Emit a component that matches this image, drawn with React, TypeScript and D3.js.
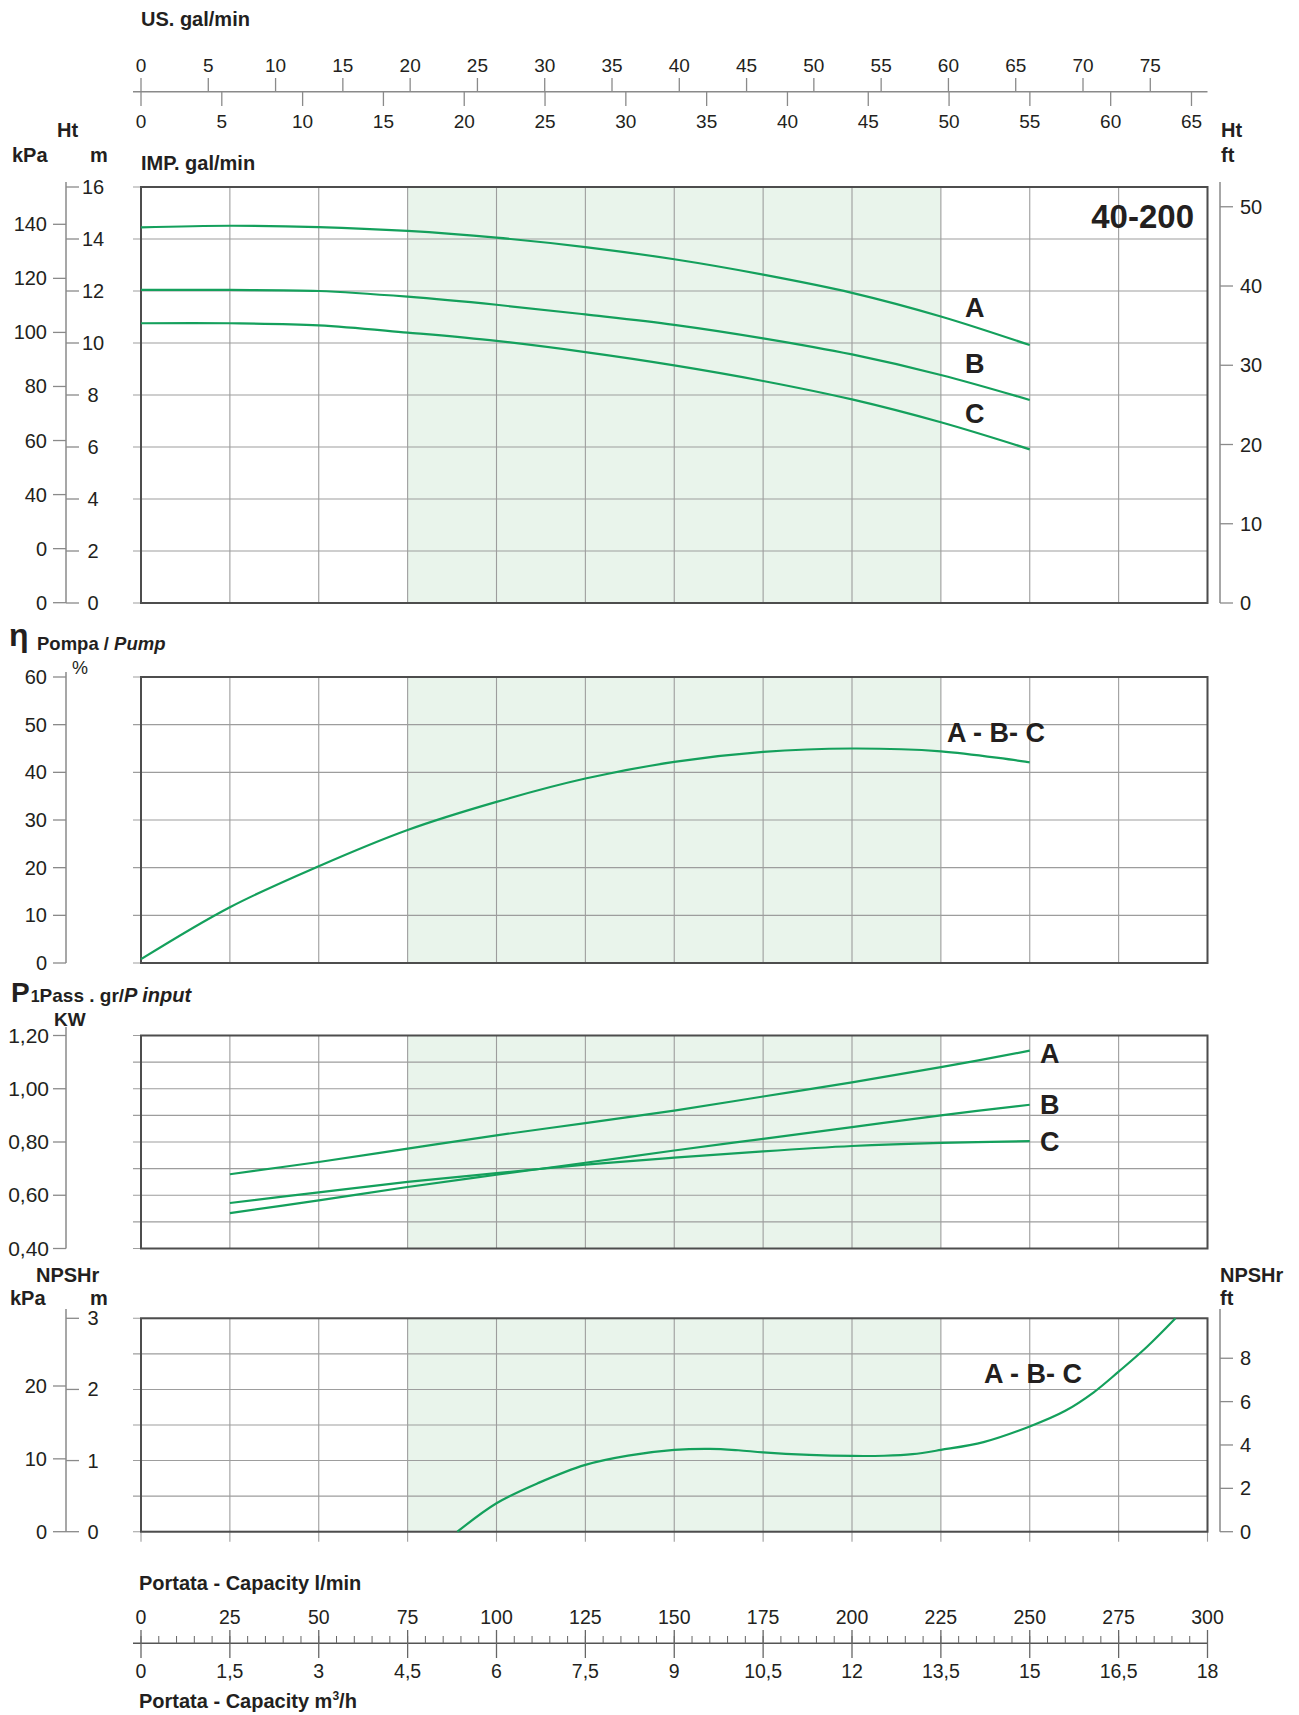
import React from 'react';
import * as d3 from 'd3';

// ---- axis tick values / labels ----
const flowTicks = [0, 25, 50, 75, 100, 125, 150, 175, 200, 225, 250, 275, 300];
const m3hLabels = ['0', '1,5', '3', '4,5', '6', '7,5', '9', '10,5', '12', '13,5', '15', '16,5', '18'];
const usGalTicks = [0, 5, 10, 15, 20, 25, 30, 35, 40, 45, 50, 55, 60, 65, 70, 75];
const impGalTicks = [0, 5, 10, 15, 20, 25, 30, 35, 40, 45, 50, 55, 60, 65];
const band = [75, 225];

const headMTicks = [0, 2, 4, 6, 8, 10, 12, 14, 16];
const headKpaTicks = [0, 20, 40, 60, 80, 100, 120, 140];
const headKpaLabels = ['0', '0', '40', '60', '80', '100', '120', '140'];
const headFtTicks = [0, 10, 20, 30, 40, 50];

const effTicks = [0, 10, 20, 30, 40, 50, 60];

const powerGrid = [0.4, 0.5, 0.6, 0.7, 0.8, 0.9, 1.0, 1.1, 1.2];
const powerTicks = [0.4, 0.6, 0.8, 1.0, 1.2];
const powerLabels = ['0,40', '0,60', '0,80', '1,00', '1,20'];

const npshGrid = [0, 0.5, 1, 1.5, 2, 2.5, 3];
const npshMTicks = [0, 1, 2, 3];
const npshKpaTicks = [0, 10, 20];
const npshFtTicks = [0, 2, 4, 6, 8];

// ---- curves ----
const headFlow = [0, 25, 50, 75, 100, 125, 150, 175, 200, 225, 250];
const headA = [14.45, 14.51, 14.46, 14.31, 14.05, 13.69, 13.22, 12.63, 11.93, 11.02, 9.92];
const headB = [12.04, 12.04, 12.0, 11.78, 11.47, 11.1, 10.7, 10.18, 9.56, 8.77, 7.81];
const headC = [10.76, 10.76, 10.68, 10.4, 10.08, 9.65, 9.14, 8.54, 7.83, 6.95, 5.91];

const effFlow = [0, 25, 50, 75, 100, 125, 150, 175, 200, 225, 250];
const effValues = [0.8, 11.7, 20.3, 27.9, 33.8, 38.7, 42.2, 44.3, 45.0, 44.4, 42.1];

const powerFlow = [25, 50, 75, 100, 125, 150, 175, 200, 225, 250];
const powerA = [0.679, 0.725, 0.775, 0.825, 0.871, 0.918, 0.971, 1.024, 1.081, 1.143];
const powerB = [0.533, 0.581, 0.631, 0.677, 0.722, 0.768, 0.812, 0.856, 0.9, 0.94];
const powerC = [0.571, 0.611, 0.65, 0.683, 0.715, 0.741, 0.765, 0.785, 0.797, 0.803];

const npshFlow = [89, 100, 112, 125, 137, 150, 160, 168, 175, 188, 200, 209, 217, 225, 237, 250, 260, 268, 275, 283, 291];
const npshValues = [0, 0.4, 0.69, 0.94, 1.07, 1.15, 1.165, 1.145, 1.115, 1.08, 1.065, 1.068, 1.09, 1.15, 1.26, 1.48, 1.7, 1.96, 2.25, 2.6, 3.0];

const FONT = '"Liberation Sans", Arial, Helvetica, sans-serif';
const GREEN = '#14a05c';
const GRID = '#9d9d9d';
const AXIS = '#8a8a8a';
const TXT = '#231f20';

const X0 = 141;
const X1 = 1207.5;
const GRID_LEFT = 133;
const AX_L = 66;
const AX_R = 1220;

const x = d3.scaleLinear().domain([0, 300]).range([X0, X1]);
const xUS = d3.scaleLinear().domain([0, 300 / 3.78541]).range([X0, X1]);
const xIMP = d3.scaleLinear().domain([0, 300 / 4.54609]).range([X0, X1]);

type PanelProps = {
  y: d3.ScaleLinear<number, number>;
  grid: number[];
  extendBottom?: number;
};

function Panel({ y, grid, extendBottom = 0 }: PanelProps) {
  const [b, t] = y.range();
  return (
    <g>
      <rect x={x(band[0])} y={t} width={x(band[1]) - x(band[0])} height={b - t} fill="#e9f4eb" />
      {flowTicks.map((f) => (
        <line key={'v' + f} x1={x(f)} x2={x(f)} y1={t} y2={b + extendBottom} stroke={GRID} strokeWidth={1.1} />
      ))}
      {grid.map((g) => (
        <line key={'h' + g} x1={GRID_LEFT} x2={X1} y1={y(g)} y2={y(g)} stroke={GRID} strokeWidth={1.1} />
      ))}
      <rect x={X0} y={t} width={X1 - X0} height={b - t} fill="none" stroke="#4d4d4d" strokeWidth={2} />
    </g>
  );
}

function Curve({ xs, ys, y }: { xs: number[]; ys: number[]; y: d3.ScaleLinear<number, number> }) {
  const pts = xs.map((f, i) => [f, ys[i]] as [number, number]);
  const gen = d3
    .line<[number, number]>()
    .x((d) => x(d[0]))
    .y((d) => y(d[1]))
    .curve(d3.curveCatmullRom.alpha(0.5));
  return <path d={gen(pts) || ''} fill="none" stroke={GREEN} strokeWidth={2.2} />;
}

function LeftTicks({ scale, values, labels, labelX = 47, size = 20 }: {
  scale: d3.ScaleLinear<number, number>; values: number[]; labels: string[]; labelX?: number; size?: number;
}) {
  return (
    <g>
      {values.map((v, i) => (
        <g key={v}>
          <line x1={53} x2={AX_L} y1={scale(v)} y2={scale(v)} stroke={AXIS} strokeWidth={1.3} />
          <text x={labelX} y={scale(v) + 7} textAnchor="end" fontSize={size} fill={TXT}>{labels[i]}</text>
        </g>
      ))}
    </g>
  );
}

function MTicks({ scale, values }: { scale: d3.ScaleLinear<number, number>; values: number[] }) {
  return (
    <g>
      {values.map((v) => (
        <g key={v}>
          <line x1={AX_L} x2={79} y1={scale(v)} y2={scale(v)} stroke={AXIS} strokeWidth={1.3} />
          <text x={93} y={scale(v) + 7} textAnchor="middle" fontSize={20} fill={TXT}>{v}</text>
        </g>
      ))}
    </g>
  );
}

function RightTicks({ scale, values }: { scale: d3.ScaleLinear<number, number>; values: number[] }) {
  return (
    <g>
      {values.map((v) => (
        <g key={v}>
          <line x1={AX_R} x2={1233} y1={scale(v)} y2={scale(v)} stroke={AXIS} strokeWidth={1.3} />
          <text x={1240} y={scale(v) + 7} fontSize={20} fill={TXT}>{v}</text>
        </g>
      ))}
    </g>
  );
}

export default function App() {
  // head panel
  const yHead = d3.scaleLinear().domain([0, 16]).range([603, 187]);
  const yHeadKpa = d3.scaleLinear().domain([0, 140]).range([602.7, 224.3]);
  const yHeadFt = d3.scaleLinear().domain([0, 16 / 0.3048]).range([603, 187]);
  // efficiency panel
  const yEff = d3.scaleLinear().domain([0, 60]).range([963, 677]);
  // power panel
  const yPow = d3.scaleLinear().domain([0.4, 1.2]).range([1248.5, 1035.5]);
  // npsh panel
  const yNpsh = d3.scaleLinear().domain([0, 3]).range([1531.7, 1318.3]);
  const yNpshKpa = d3.scaleLinear().domain([0, 20]).range([1531.7, 1386]);
  const yNpshFt = d3.scaleLinear().domain([0, 3 / 0.3048]).range([1531.7, 1318.3]);

  const minorFlow = x.ticks(60);

  return (
    <div style={{ position: 'absolute', left: 0, top: 0 }}>
      <svg width={1299} height={1715} style={{ display: 'block', background: '#fff' }} fontFamily={FONT}>
        {/* ---------- top axes ---------- */}
        <text x={141} y={26} fontSize={20} fontWeight="bold" fill={TXT}>US. gal/min</text>
        <line x1={GRID_LEFT} x2={X1} y1={91.7} y2={91.7} stroke={AXIS} strokeWidth={1.5} />
        {usGalTicks.map((v) => (
          <g key={'us' + v}>
            <line x1={xUS(v)} x2={xUS(v)} y1={78} y2={91.7} stroke={AXIS} strokeWidth={1.3} />
            <text x={xUS(v)} y={72} textAnchor="middle" fontSize={19} fill={TXT}>{v}</text>
          </g>
        ))}
        {impGalTicks.map((v) => (
          <g key={'imp' + v}>
            <line x1={xIMP(v)} x2={xIMP(v)} y1={91.7} y2={106} stroke={AXIS} strokeWidth={1.3} />
            <text x={xIMP(v)} y={128} textAnchor="middle" fontSize={19} fill={TXT}>{v}</text>
          </g>
        ))}
        <text x={141} y={170} fontSize={20} fontWeight="bold" fill={TXT}>IMP. gal/min</text>

        {/* ---------- head ---------- */}
        <text x={57} y={137} fontSize={20} fontWeight="bold" fill={TXT}>Ht</text>
        <text x={12} y={162} fontSize={20} fontWeight="bold" fill={TXT}>kPa</text>
        <text x={90} y={162} fontSize={20} fontWeight="bold" fill={TXT}>m</text>
        <text x={1221} y={137} fontSize={20} fontWeight="bold" fill={TXT}>Ht</text>
        <text x={1221} y={162} fontSize={20} fontWeight="bold" fill={TXT}>ft</text>

        <Panel y={yHead} grid={headMTicks} />
        <line x1={AX_L} x2={AX_L} y1={182} y2={603} stroke={AXIS} strokeWidth={1.5} />
        <LeftTicks scale={yHeadKpa} values={headKpaTicks} labels={headKpaLabels} />
        <MTicks scale={yHead} values={headMTicks} />
        <line x1={AX_R} x2={AX_R} y1={182} y2={603} stroke={AXIS} strokeWidth={1.5} />
        <RightTicks scale={yHeadFt} values={headFtTicks} />

        <Curve xs={headFlow} ys={headA} y={yHead} />
        <Curve xs={headFlow} ys={headB} y={yHead} />
        <Curve xs={headFlow} ys={headC} y={yHead} />
        <text x={965} y={317} fontSize={27} fontWeight="bold" fill={TXT}>A</text>
        <text x={965} y={373} fontSize={27} fontWeight="bold" fill={TXT}>B</text>
        <text x={965} y={423} fontSize={27} fontWeight="bold" fill={TXT}>C</text>
        <text x={1194} y={228} textAnchor="end" fontSize={33} fontWeight="bold" fill={TXT}>40-200</text>

        {/* ---------- efficiency ---------- */}
        <text x={9} y={646} fontSize={32} fontWeight="bold" fill={TXT}>η</text>
        <text x={37} y={650} fontSize={18.5} fontWeight="bold" fill={TXT}>
          Pompa / <tspan fontStyle="italic">Pump</tspan>
        </text>
        <text x={72} y={674} fontSize={18} fill={TXT}>%</text>
        <Panel y={yEff} grid={effTicks} />
        <line x1={AX_L} x2={AX_L} y1={672} y2={963} stroke={AXIS} strokeWidth={1.5} />
        <LeftTicks scale={yEff} values={effTicks} labels={effTicks.map(String)} />
        <Curve xs={effFlow} ys={effValues} y={yEff} />
        <text x={947} y={742} fontSize={27} fontWeight="bold" fill={TXT}>A - B- C</text>

        {/* ---------- power ---------- */}
        <text x={11} y={1002} fill={TXT} fontWeight="bold">
          <tspan fontSize={28}>P</tspan>
          <tspan fontSize={16} dx={1}>1</tspan>
          <tspan fontSize={19}>Pass . gr/</tspan>
          <tspan fontSize={20} fontStyle="italic">P input</tspan>
        </text>
        <text x={54} y={1026} fontSize={19} fontWeight="bold" fill={TXT}>KW</text>
        <Panel y={yPow} grid={powerGrid} />
        <line x1={AX_L} x2={AX_L} y1={1027} y2={1248.5} stroke={AXIS} strokeWidth={1.5} />
        <LeftTicks scale={yPow} values={powerTicks} labels={powerLabels} labelX={49} size={21} />
        <Curve xs={powerFlow} ys={powerA} y={yPow} />
        <Curve xs={powerFlow} ys={powerB} y={yPow} />
        <Curve xs={powerFlow} ys={powerC} y={yPow} />
        <text x={1040} y={1063} fontSize={27} fontWeight="bold" fill={TXT}>A</text>
        <text x={1040} y={1114} fontSize={27} fontWeight="bold" fill={TXT}>B</text>
        <text x={1040} y={1151} fontSize={27} fontWeight="bold" fill={TXT}>C</text>

        {/* ---------- NPSH ---------- */}
        <text x={36} y={1282} fontSize={20} fontWeight="bold" fill={TXT}>NPSHr</text>
        <text x={10} y={1305} fontSize={20} fontWeight="bold" fill={TXT}>kPa</text>
        <text x={90} y={1305} fontSize={20} fontWeight="bold" fill={TXT}>m</text>
        <text x={1220} y={1282} fontSize={20} fontWeight="bold" fill={TXT}>NPSHr</text>
        <text x={1220} y={1305} fontSize={20} fontWeight="bold" fill={TXT}>ft</text>
        <Panel y={yNpsh} grid={npshGrid} extendBottom={10} />
        <line x1={AX_L} x2={AX_L} y1={1309} y2={1531.7} stroke={AXIS} strokeWidth={1.5} />
        <LeftTicks scale={yNpshKpa} values={npshKpaTicks} labels={npshKpaTicks.map(String)} />
        <MTicks scale={yNpsh} values={npshMTicks} />
        <line x1={AX_R} x2={AX_R} y1={1309} y2={1531.7} stroke={AXIS} strokeWidth={1.5} />
        <RightTicks scale={yNpshFt} values={npshFtTicks} />
        <Curve xs={npshFlow} ys={npshValues} y={yNpsh} />
        <text x={984} y={1383} fontSize={27} fontWeight="bold" fill={TXT}>A - B- C</text>

        {/* ---------- bottom axis ---------- */}
        <text x={139} y={1590} fontSize={20} fontWeight="bold" fill={TXT}>Portata - Capacity l/min</text>
        <line x1={GRID_LEFT} x2={X1} y1={1643.3} y2={1643.3} stroke="#555" strokeWidth={1.5} />
        {minorFlow.map((v) => (
          <line key={'mn' + v} x1={x(v)} x2={x(v)} y1={1636} y2={1643.3} stroke="#666" strokeWidth={1} />
        ))}
        {flowTicks.map((v, i) => (
          <g key={'bt' + v}>
            <line x1={x(v)} x2={x(v)} y1={1630} y2={1658} stroke="#666" strokeWidth={1.3} />
            <text x={x(v)} y={1624} textAnchor="middle" fontSize={19.5} fill={TXT}>{v}</text>
            <text x={x(v)} y={1678} textAnchor="middle" fontSize={19.5} fill={TXT}>{m3hLabels[i]}</text>
          </g>
        ))}
        <text x={139} y={1708} fontSize={20} fontWeight="bold" fill={TXT}>
          Portata - Capacity m<tspan fontSize={12} dy={-8}>3</tspan><tspan dy={8}>/h</tspan>
        </text>
      </svg>
    </div>
  );
}
